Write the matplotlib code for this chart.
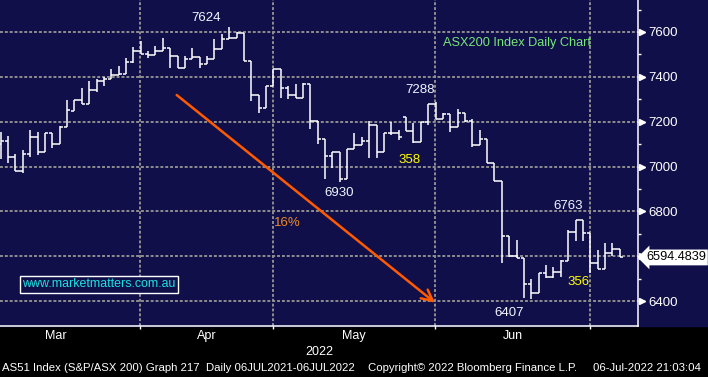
import matplotlib
matplotlib.use('Agg')
import matplotlib.pyplot as plt
from matplotlib.patches import Rectangle
from matplotlib.transforms import blended_transform_factory

plt.rcParams['font.family'] = ['Liberation Sans', 'DejaVu Sans']

# daily OHLC bars, AS51 (Mar-Jul 2022)
opens = [7100, 7112, 7042, 6982, 7054, 7130, 7063, 7148, 7099, 7175,
         7249, 7297, 7277, 7340, 7380, 7389, 7408, 7413, 7465, 7514,
         7500, 7496, 7514, 7527, 7493, 7441, 7478, 7487, 7457, 7478,
         7523, 7567, 7571, 7594, 7470, 7318, 7259, 7359, 7433, 7349,
         7319, 7304, 7368, 7204, 7121, 7048, 7065, 6943, 7077, 7095,
         7114, 7184, 7065, 7151, 7151, 7219, 7158, 7109, 7199, 7280,
         7210, 7233, 7175, 7237, 7205, 7096, 7121, 7017, 6935, 6690,
         6601, 6591, 6476, 6434, 6524, 6509, 6531, 6579, 6706, 6763,
         6702, 6571, 6541, 6613, 6631]
highs = [7152, 7136, 7056, 7074, 7163, 7152, 7150, 7148, 7181, 7297,
         7297, 7349, 7381, 7390, 7398, 7435, 7448, 7482, 7531, 7561,
         7515, 7537, 7572, 7527, 7493, 7493, 7527, 7487, 7493, 7570,
         7590, 7624, 7601, 7594, 7472, 7319, 7359, 7433, 7433, 7359,
         7368, 7371, 7368, 7204, 7121, 7065, 7065, 7077, 7151, 7133,
         7205, 7184, 7151, 7199, 7163, 7219, 7196, 7199, 7280, 7288,
         7237, 7233, 7255, 7237, 7210, 7163, 7121, 7017, 6935, 6690,
         6672, 6591, 6497, 6524, 6561, 6553, 6583, 6717, 6763, 6763,
         6702, 6628, 6660, 6657, 6631]
lows = [7032, 7014, 6982, 6973, 7044, 7051, 7063, 7084, 7099, 7175,
        7249, 7277, 7277, 7334, 7361, 7389, 7408, 7413, 7463, 7500,
        7482, 7496, 7514, 7441, 7441, 7441, 7478, 7438, 7457, 7478,
        7523, 7567, 7571, 7470, 7294, 7237, 7259, 7359, 7307, 7301,
        7304, 7304, 7166, 7099, 6943, 6995, 6930, 6943, 7077, 7095,
        7040, 7040, 7065, 7141, 7118, 7158, 7106, 7109, 7185, 7210,
        7210, 7155, 7175, 7200, 7086, 7096, 7017, 6935, 6571, 6598,
        6591, 6412, 6407, 6434, 6501, 6501, 6506, 6579, 6668, 6668,
        6527, 6541, 6541, 6601, 6595]
closes = [7112, 7042, 6982, 7054, 7130, 7063, 7148, 7099, 7175, 7252,
          7297, 7277, 7340, 7380, 7389, 7408, 7413, 7465, 7514, 7500,
          7496, 7514, 7527, 7493, 7441, 7478, 7487, 7457, 7478, 7523,
          7567, 7571, 7594, 7470, 7318, 7259, 7359, 7433, 7349, 7319,
          7304, 7368, 7204, 7121, 7048, 7065, 6943, 7077, 7095, 7114,
          7184, 7065, 7151, 7151, 7130, 7158, 7109, 7199, 7280, 7210,
          7233, 7175, 7237, 7205, 7096, 7121, 7017, 6935, 6690, 6601,
          6591, 6476, 6434, 6524, 6509, 6531, 6579, 6706, 6763, 6702,
          6571, 6541, 6613, 6631, 6594.4839]

month_names = ['Mar', 'Apr', 'May', 'Jun']
month_starts = [-4, 19, 37, 59, 80]   # bar index where each month begins
y_ticks = [6400, 6600, 6800, 7000, 7200, 7400, 7600]
y_minor = [6500, 6700, 6900, 7100, 7300, 7500, 7700]
last_price = closes[-1]

navy = '#100F4A'
W, H = 708, 377

fig = plt.figure(figsize=(W / 100, H / 100), dpi=100, facecolor='black')
fig.patches.append(Rectangle((0, 51 / H), 1, 326 / H, transform=fig.transFigure,
                             color=navy, zorder=-5))
ax = fig.add_axes([0, 51 / H, 637.7 / W, 326 / H])
ax.set_facecolor(navy)

# OHLC bars: vertical high-low, left tick open, right tick close
xs = list(range(len(closes)))
ax.vlines(xs, lows, highs, color='white', lw=1.1, zorder=3)
ax.hlines(opens, [i - 0.47 for i in xs], xs, color='white', lw=1.1, zorder=3)
ax.hlines(closes, xs, [i + 0.47 for i in xs], color='white', lw=1.1, zorder=3)

ax.set_xlim(-0.095, 86.43)
ax.set_ylim(6288.7, 7742.7)

# grid
grid_kw = dict(color='#8E8E8E', lw=1.4, linestyle=(0, (1.5, 1)), zorder=1)
for y in y_ticks:
    ax.axhline(y, **grid_kw)
for m in month_starts[1:]:
    ax.axvline(m - 0.05, **grid_kw)

# axes styling
for s in ['top', 'left']:
    ax.spines[s].set_visible(False)
for s in ['right', 'bottom']:
    ax.spines[s].set_color('white')
    ax.spines[s].set_linewidth(1.1)
ax.yaxis.tick_right()
ax.set_yticks(y_ticks)
ax.set_yticks(y_minor, minor=True)
# the 6600 label is hidden behind the last-price tag
ax.set_yticklabels(['' if v == 6600 else str(v) for v in y_ticks])
ax.tick_params(axis='y', which='major', length=5, width=1, colors='white',
               labelsize=9.5, pad=2.5)
ax.tick_params(axis='y', which='minor', length=2.3, width=1, colors='white')
ax.set_xticks([m - 0.05 for m in month_starts[1:]])
ax.set_xticklabels([])
ax.tick_params(axis='x', length=2.5, width=1, colors='white')

tr_y = blended_transform_factory(ax.transAxes, ax.transData)
ax.plot([642 / 637.7] * len(y_ticks), y_ticks, ls='none', marker='>', ms=4,
        color='white', transform=tr_y, clip_on=False)

# month labels and year
tr_x = blended_transform_factory(ax.transData, fig.transFigure)
for name, a, b in zip(month_names, month_starts[:-1], month_starts[1:]):
    ax.text((a + b) / 2 - 0.05, 1 - 336 / H, name, transform=tr_x, color='white',
            fontsize=9, ha='center', va='center')
ax.text(43.2, 1 - 352 / H, '2022', transform=tr_x, color='white',
        fontsize=9, ha='center', va='center')

# annotations
txt = '#F2F5FF'
ax.text(27.86, 7662, '7624', color=txt, fontsize=9.5, ha='center', va='center')
ax.text(56.84, 7343, '7288', color=txt, fontsize=9.5, ha='center', va='center')
ax.text(45.87, 6883, '6930', color=txt, fontsize=9.5, ha='center', va='center')
ax.text(76.97, 6824, '6763', color=txt, fontsize=9.5, ha='center', va='center')
ax.text(68.97, 6347, '6407', color=txt, fontsize=9.5, ha='center', va='center')
ax.text(55.48, 7029, '358', color='#FFFF00', fontsize=9.5, ha='center', va='center')
ax.text(78.43, 6485, '356', color='#FFFF00', fontsize=9.5, ha='center', va='center')
ax.text(37.08, 6750, '16%', color='#F08A24', fontsize=9.5, ha='left', va='center')
ax.text(60.06, 7553, 'ASX200 Index Daily Chart', color='#78E678', fontsize=9.2,
        ha='left', va='center')
ax.text(13.32, 6474, 'www.marketmatters.com.au', color='#19E3E3', fontsize=8.9,
        ha='center', va='center',
        bbox=dict(boxstyle='square,pad=0.2', fc=navy, ec='white', lw=1))

ax.annotate('', xy=(58.93, 6392.6), xytext=(23.88, 7319),
            arrowprops=dict(arrowstyle='->,head_length=0.8,head_width=0.4',
                            color='#FF5A00', lw=1.8, shrinkA=0, shrinkB=0),
            zorder=4)

# last price tag
ax.text(646 / 637.7, last_price, f'{last_price:.4f}', transform=tr_y,
        color='black', fontsize=9.2, ha='left', va='center', clip_on=False,
        bbox=dict(boxstyle='larrow,pad=0.15', fc='white', ec='none'))

# footer
foot = dict(color='white', fontsize=8.2, va='center')
fig.text(2 / W, 1 - 368 / H, 'AS51 Index (S&P/ASX 200) Graph 217', **foot)
fig.text(206 / W, 1 - 368 / H, 'Daily 06JUL2021-06JUL2022', **foot)
fig.text(367.7 / W, 1 - 368 / H, 'Copyright\u00a9 2022 Bloomberg Finance L.P.', **foot)
fig.text(592.7 / W, 1 - 368 / H, '06-Jul-2022 21:03:04', **foot)

fig.savefig('out.png', dpi=100, facecolor='black')
